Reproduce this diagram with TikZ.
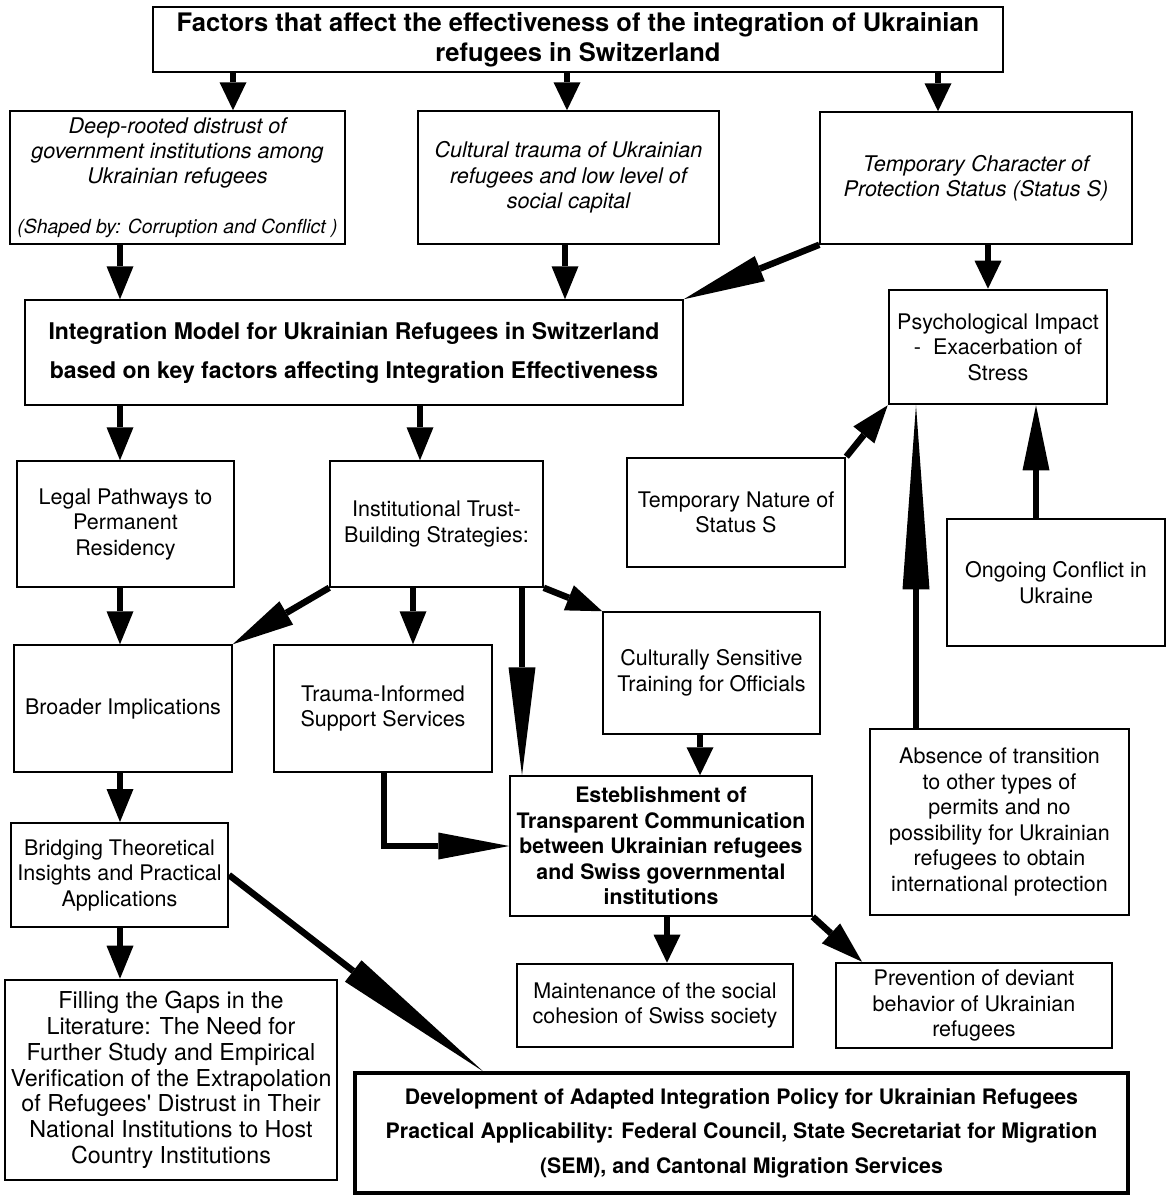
\documentclass[tikz,border=0pt]{standalone}
\usepackage{fontspec}
\setmainfont{TeX Gyre Heros}
\usetikzlibrary{arrows.meta}
\begin{document}
\begin{tikzpicture}[x=1pt,y=-1pt,
  box/.style={draw, line width=1.5pt, rectangle, inner sep=0pt, align=center,
    font=\fontsize{21.5}{25.5}\selectfont},
  tbox/.style={box, line width=2.6pt},
  conn/.style={line width=6.5pt, -{Triangle[length=#1,width=27pt,line width=0pt]}},
  conn/.default=28pt]
\useasboundingbox (0,0) rectangle (1170,1200);
\fill[white] (0,0) rectangle (1170,1200);

% nodes
\node[box, line width=2.6pt, minimum width=850pt, minimum height=65pt,
  font=\bfseries\fontsize{25.5}{30}\selectfont] (title) at (578,39.5)
  {Factors that affect the effectiveness of the integration of Ukrainian\\refugees in Switzerland};
\node[box, minimum width=335pt, minimum height=133pt, font=\itshape\fontsize{21.6}{25}\selectfont] (A) at (177.5,177.5)
  {Deep-rooted distrust of\\government institutions among\\Ukrainian refugees\\[25pt]{\fontsize{19.4}{25}\selectfont (Shaped by: Corruption and Conflict )}};
\node[box, minimum width=301pt, minimum height=133pt, font=\itshape\fontsize{21.6}{25.5}\selectfont] (B) at (568.5,177.5)
  {Cultural trauma of Ukrainian\\refugees and low level of\\social capital};
\node[box, minimum width=312pt, minimum height=132pt, font=\itshape\fontsize{21.6}{25.5}\selectfont] (C) at (976,178)
  {Temporary Character of\\Protection Status (Status S)};
\node[box, minimum width=658pt, minimum height=105pt, font=\bfseries\fontsize{23}{39}\selectfont] (integ) at (354,352.5)
  {Integration Model for Ukrainian Refugees in Switzerland\\based on key factors affecting Integration Effectiveness};
\node[tbox, minimum width=218pt, minimum height=114pt] (psych) at (998,347)
  {Psychological Impact\\-\ \ Exacerbation of\\Stress};
\node[box, minimum width=217pt, minimum height=126pt] (legal) at (125.5,524)
  {Legal Pathways to\\Permanent\\Residency};
\node[box, minimum width=213pt, minimum height=126pt] (inst) at (436.5,524)
  {Institutional Trust-\\Building Strategies:};
\node[tbox, minimum width=218pt, minimum height=109pt] (tempnat) at (736,512.5)
  {Temporary Nature of\\Status S};
\node[tbox, minimum width=218pt, minimum height=127pt] (ongoing) at (1056,582.5)
  {Ongoing Conflict in\\Ukraine};
\node[tbox, minimum width=259pt, minimum height=186pt] (absence) at (999.5,822)
  {Absence of transition\\to other types of\\permits and no\\possibility for Ukrainian\\refugees to obtain\\international protection};
\node[box, minimum width=218pt, minimum height=127pt] (broader) at (123,708.5)
  {Broader Implications};
\node[box, minimum width=218pt, minimum height=127pt] (trauma) at (383,708.5)
  {Trauma-Informed\\Support Services};
\node[box, minimum width=217pt, minimum height=122pt] (cultural) at (711.5,673)
  {Culturally Sensitive\\Training for Officials};
\node[box, minimum width=302pt, minimum height=140pt, font=\bfseries\fontsize{21.3}{25.5}\selectfont] (estab) at (661,846)
  {Esteblishment of\\Transparent Communication\\between Ukrainian refugees\\and Swiss governmental\\institutions};
\node[tbox, minimum width=276pt, minimum height=83pt] (maint) at (655,1005.5)
  {Maintenance of the social\\cohesion of Swiss society};
\node[tbox, minimum width=276pt, minimum height=85pt] (prev) at (974,1005.5)
  {Prevention of deviant\\behavior of Ukrainian\\refugees};
\node[box, line width=2pt, minimum width=217pt, minimum height=104pt] (bridging) at (119.5,875)
  {Bridging Theoretical\\Insights and Practical\\Applications};
\node[tbox, minimum width=332pt, minimum height=200pt, font=\fontsize{23.3}{25.8}\selectfont] (filling) at (171,1080)
  {Filling the Gaps in the\\Literature: The Need for\\Further Study and Empirical\\Verification of the Extrapolation\\of Refugees\textquotesingle{} Distrust in Their\\National Institutions to Host\\Country Institutions};
\node[box, line width=3.5pt, minimum width=773pt, minimum height=120pt, font=\bfseries\fontsize{21.3}{34.5}\selectfont] (dev) at (741.5,1133)
  {Development of Adapted Integration Policy for Ukrainian Refugees\\Practical Applicability: Federal Council, State Secretariat for Migration\\(SEM), and Cantonal Migration Services};

% x positions of vertical connectors
\coordinate (x233) at (233,0);
\coordinate (x567) at (567,0);
\coordinate (x938) at (938,0);
\coordinate (x120) at (120,0);
\coordinate (x565) at (565,0);
\coordinate (x988) at (988,0);
\coordinate (x420) at (420,0);
\coordinate (x1036) at (1036,0);
\coordinate (x916) at (916,0);
\coordinate (x413) at (413,0);
\coordinate (x522) at (522,0);
\coordinate (x700) at (700,0);
\coordinate (x384) at (384,0);
\coordinate (x667) at (667,0);
\coordinate (x862) at (862,0);
\coordinate (x483) at (483,0);

% connectors
\draw[conn] (title.south -| x233) -- (A.north -| x233);
\draw[conn] (title.south -| x567) -- (B.north -| x567);
\draw[conn] (title.south -| x938) -- (C.north -| x938);
\draw[conn=33pt] (A.south -| x120) -- (integ.north -| x120);
\draw[conn=33pt] (B.south -| x565) -- (integ.north -| x565);
\draw[conn=82pt] (C.south west) -- (integ.north east);
\draw[conn] (C.south -| x988) -- (psych.north -| x988);
\draw[conn=33pt] (integ.south -| x120) -- (legal.north -| x120);
\draw[conn=33pt] (integ.south -| x420) -- (inst.north -| x420);
\draw[conn=38pt] (tempnat.north east) -- (psych.south west);
\draw[conn=65pt] (ongoing.north -| x1036) -- (psych.south -| x1036);
\draw[conn=184pt] (absence.north -| x916) -- (psych.south -| x916);
\draw[conn=33pt] (legal.south -| x120) -- (broader.north -| x120);
\draw[conn=62pt] (inst.south west) -- (broader.north east);
\draw[conn=33pt] (inst.south -| x413) -- (trauma.north -| x413);
\draw[conn=108pt] (inst.south -| x522) -- (estab.north -| x522);
\draw[conn=36pt] (inst.south east) -- (cultural.north west);
\draw[conn] (cultural.south -| x700) -- (estab.north -| x700);
\draw[conn=71pt] (trauma.south -| x384) |- (estab.west);
\draw[conn] (estab.south -| x667) -- (maint.north -| x667);
\draw[conn=42pt] (estab.south east) -- (prev.north -| x862);
\draw[conn=33pt] (broader.south -| x120) -- (bridging.north -| x120);
\draw[conn=33pt] (bridging.south -| x120) -- (filling.north -| x120);
\draw[conn=164pt] (bridging.east) -- (dev.north -| x483);
\end{tikzpicture}
\end{document}
